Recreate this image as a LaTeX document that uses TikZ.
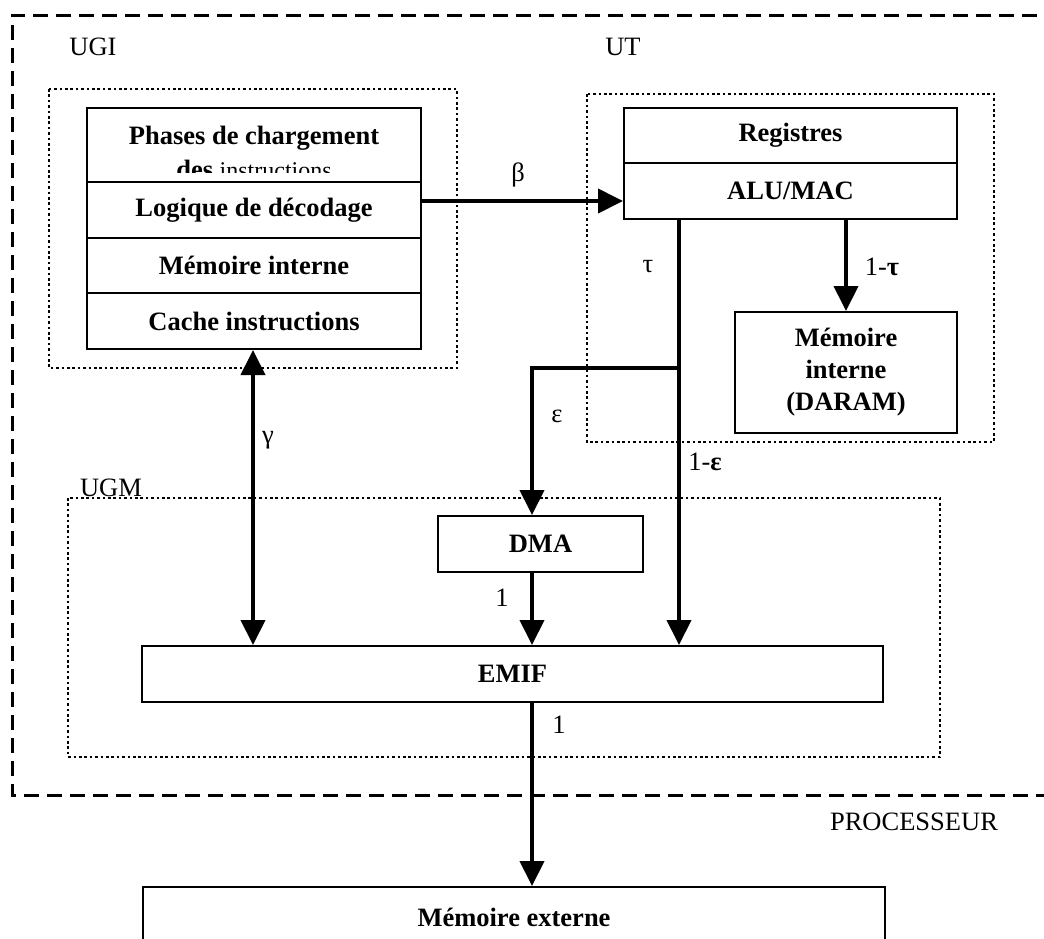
\documentclass[tikz,border=0pt]{standalone}
\usepackage{fontspec}
\setmainfont{Liberation Serif}
\usetikzlibrary{arrows.meta}

\begin{document}
\begin{tikzpicture}[
  x=1pt, y=-1pt,
  every node/.style = {font=\fontsize{26.5}{32}\selectfont, inner sep=0pt},
  blk/.style  = {draw, line width=2pt, fill=white, align=center,
                 font=\fontsize{26.5}{32}\selectfont\bfseries},
  flow/.style = {line width=4pt, -{Triangle[length=25pt,width=24pt]}},
  bidir/.style = {line width=4pt,
                 {Triangle[length=25pt,width=24pt]}-{Triangle[length=25pt,width=24pt]}},
  unit/.style = {line width=2.6pt, dash pattern=on 2.6pt off 2.8pt},
]

\useasboundingbox (0,0) rectangle (1044,938);
\fill[white] (0,0) rectangle (1044,938);

% ── Processor boundary (open on the right) ───────────────────────────────
\draw[line width=3pt, dash pattern=on 15pt off 8pt]
  (1060,15) -- (12,15) -- (12,795) -- (1060,795);

% ── Unit frames ───────────────────────────────────────────────────────────
\draw[unit] (49,89) rectangle (457,368);    % UGI
\draw[unit] (587,94) rectangle (994,442);   % UT
\draw[unit] (68,498) rectangle (940,757);   % UGM

\node (ugi) at (93,47) {UGI};
\node (ut) at (623,47) {UT};
\node[anchor=base] (ugm) at (111,496) {UGM};
\node (proc) at (914,822) {PROCESSEUR};

% ── UGI stack ─────────────────────────────────────────────────────────────
\node[blk, minimum width=334pt, minimum height=74pt] (phases) at (254,145) {};
\node[anchor=base, font=\fontsize{26.5}{32}\selectfont\bfseries] (phasesA)
  at (254,144) {Phases de chargement};
\begin{scope}
  \clip (88,109) rectangle (420,172);
  \node[anchor=base] (phasesB) at (254,178)
    {\textbf{des} {\fontsize{24}{28}\selectfont instructions}};
\end{scope}
\node[blk, minimum width=334pt, minimum height=56pt] (logique) at (254,210)
  {Logique de décodage};
\node[blk, minimum width=334pt, minimum height=55pt] (memint) at (254,265.5)
  {Mémoire interne};
\node[blk, minimum width=334pt, minimum height=56pt] (cache) at (254,321)
  {Cache instructions};

% ── UT blocks ─────────────────────────────────────────────────────────────
\node[blk, minimum width=333pt, minimum height=55pt] (reg) at (790.5,135.5)
  {Registres};
\node[blk, minimum width=333pt, minimum height=56pt] (alu) at (790.5,191)
  {ALU/MAC};
\node[blk, minimum width=222pt, minimum height=121pt] (daram) at (846,372.5)
  {Mémoire\\interne\\(DARAM)};

% ── UGM blocks and external memory ────────────────────────────────────────
\node[blk, minimum width=205pt, minimum height=56pt] (dma) at (540.5,544) {DMA};
\node[blk, minimum width=741pt, minimum height=56pt] (emif) at (512.5,674) {EMIF};
\node[blk, minimum width=742pt, minimum height=60pt] (extmem) at (514,917)
  {Mémoire externe};

% ── Flows ─────────────────────────────────────────────────────────────────
\coordinate (tsplit) at (679,368);
\coordinate (ebranch) at (532,368);
\coordinate (gbus) at (253,0);

\draw[flow] ([yshift=9pt]logique.east) -- ([yshift=9pt]logique.east -| alu.west);
\draw[flow] (alu.south -| daram.north) -- (daram.north);
\draw[flow] (alu.south -| tsplit) -- (tsplit |- emif.north);
\draw[flow] (tsplit) -- (ebranch) -- (ebranch |- dma.north);
\draw[flow] (ebranch |- dma.south) -- (ebranch |- emif.north);
\draw[flow] (ebranch |- emif.south) -- (ebranch |- extmem.north);
\draw[bidir] (cache.south -| gbus) -- (emif.north -| gbus);

% ── Flow labels ───────────────────────────────────────────────────────────
\node (lbeta) at (518,175) {β};
\node (ltau) at (648,267) {τ};
\node (lntau) at (882,267) {1-\textbf{τ}};
\node (leps) at (557,416) {ε};
\node (lneps) at (705,462) {1-\textbf{ε}};
\node (lgamma) at (268,440) {γ};
\node (ldma) at (502,598) {1};
\node (lemif) at (559,725) {1};

\end{tikzpicture}
\end{document}
